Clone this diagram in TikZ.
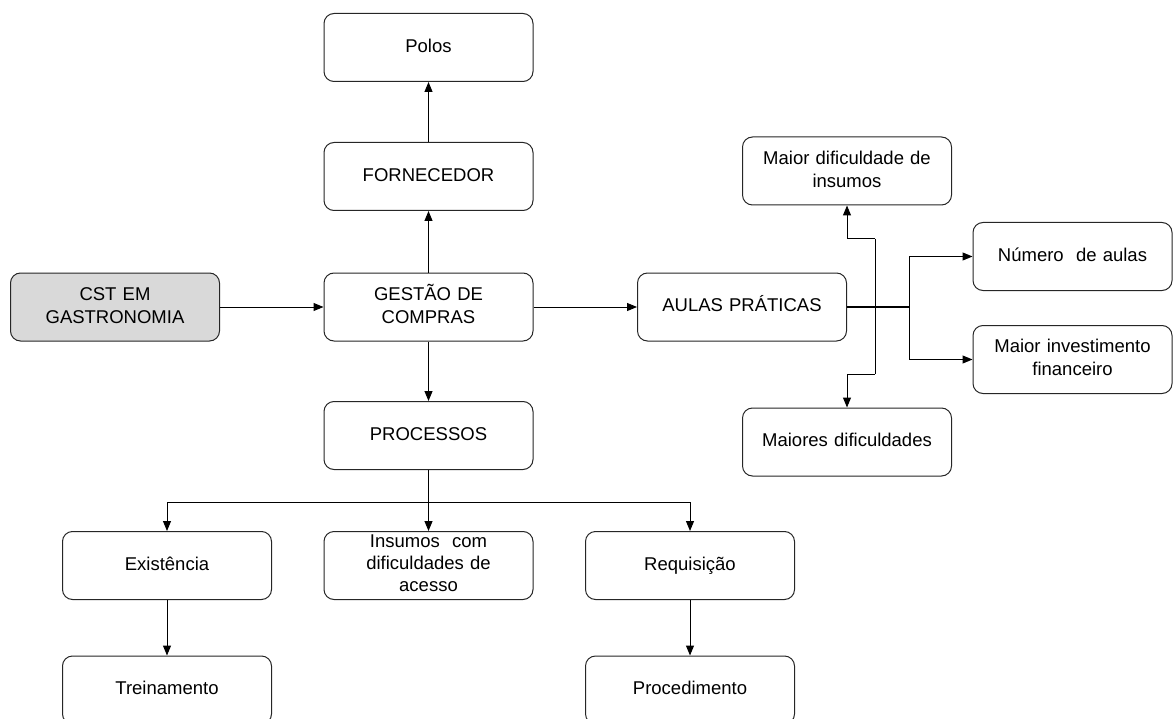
\documentclass[tikz,border=0pt]{standalone}
\usepackage{fontspec}
\setmainfont{Liberation Sans}
\usetikzlibrary{arrows.meta}
\begin{document}
\begin{tikzpicture}[x=1pt,y=-1pt,
  box/.style={draw=black!85, line width=1pt, rounded corners=10pt, fill=white,
    minimum width=209pt, minimum height=68pt, inner sep=2pt, align=center,
    text width=205pt, font=\fontsize{18.5}{23}\selectfont,
    execute at begin node=\strut, execute at end node=\strut},
  tight/.style={inner ysep=0pt, font=\fontsize{18.5}{22}\selectfont,
    execute at begin node={}, execute at end node={}},
  narrow/.style={minimum width=199pt, text width=195pt},
  start/.style={fill=black!15},
  arr/.style={line width=1pt, -{Triangle[length=10pt,width=8pt]}},
  ln/.style={line width=1pt},
  thick line/.style={line width=2pt}]
\useasboundingbox (0,0) rectangle (1174,719);
\clip (0,0) rectangle (1174,719);
% nodes
\node[box] (polos) at (428.5,47.5) {Polos};
\node[box] (forn) at (428.5,176.5) {FORNECEDOR};
\node[box] (gestao) at (428.5,307) {GESTÃO DE\\COMPRAS};
\node[box,start] (cst) at (115,307) {CST EM\\GASTRONOMIA};
\node[box] (aulas) at (742,307) {AULAS PRÁTICAS};
\node[box] (maiordif) at (847,171) {Maior dificuldade de\\insumos};
\node[box,narrow] (numero) at (1072.5,256.5) {Número\ \ de aulas};
\node[box,narrow] (invest) at (1072.5,359.5) {Maior investimento\\financeiro};
\node[box] (maiores) at (847,442) {Maiores dificuldades};
\node[box] (proc) at (428.5,435.5) {PROCESSOS};
\node[box] (exist) at (167,565.5) {Existência};
\node[box,tight] (insumos) at (428.5,565.5) {Insumos\ \ com\\dificuldades de\\acesso};
\node[box] (requis) at (690,565.5) {Requisição};
\node[box] (trein) at (167,690) {Treinamento};
\node[box] (proced) at (690,690) {Procedimento};
% connectors
\draw[arr] (cst.east) -- (gestao.west);
\draw[arr] (gestao.north) -- (forn.south);
\draw[arr] (forn.north) -- (polos.south);
\draw[arr] (gestao.south) -- (proc.north);
\draw[arr] (gestao.east) -- (aulas.west);
\coordinate (pb) at (428.5,502);
\draw[ln] (proc.south) -- (pb);
\draw[arr] (pb) -- (insumos.north);
\draw[arr] (pb) -| (exist.north);
\draw[arr] (pb) -| (requis.north);
\draw[arr] (exist.south) -- (trein.north);
\draw[arr] (requis.south) -- (proced.north);
% right side
\coordinate (br) at (909,307);
\draw[thick line] (aulas.east) -- (br);
\draw[arr] (br) |- (numero.west);
\draw[arr] (br) |- (invest.west);
\coordinate (jt) at (875,239);
\coordinate (jb) at (875,374);
\draw[ln] (jt) -- (jb);
\draw[arr] (jt) -| (maiordif.south);
\draw[arr] (jb) -| (maiores.north);
\end{tikzpicture}
\end{document}
